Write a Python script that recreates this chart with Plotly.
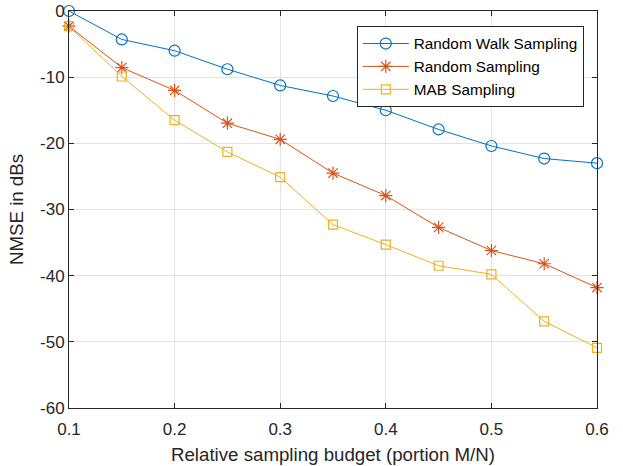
import plotly.graph_objects as go

budget = [0.1, 0.15, 0.2, 0.25, 0.3, 0.35, 0.4, 0.45, 0.5, 0.55, 0.6]
random_walk = [0.0, -4.3, -6.0, -8.8, -11.25, -12.85, -15.0, -17.9, -20.4, -22.3, -23.0]
random_samp = [-2.3, -8.55, -12.0, -16.95, -19.4, -24.5, -27.9, -32.7, -36.2, -38.2, -41.8]
mab_samp = [-2.3, -9.9, -16.5, -21.3, -25.1, -32.3, -35.3, -38.5, -39.8, -46.9, -50.9]

names = ["Random Walk Sampling", "Random Sampling", "MAB Sampling"]
colors = ["#0072BD", "#D95319", "#EDB120"]
symbols = ["circle-open", "asterisk-open", "square-open"]
sizes = [11, 11, 9]

x_ticks = [0.1, 0.2, 0.3, 0.4, 0.5, 0.6]
y_ticks = [0, -10, -20, -30, -40, -50, -60]

fig = go.Figure()
for ys, name, c, s, sz in zip([random_walk, random_samp, mab_samp], names, colors, symbols, sizes):
    fig.add_trace(go.Scatter(
        x=budget, y=ys, mode="lines+markers", name=name,
        line=dict(color=c, width=1),
        marker=dict(symbol=s, size=sz, color=c, line=dict(color=c, width=1.2)),
        cliponaxis=False,
    ))

axis_common = dict(
    showgrid=True, gridcolor="#E3E3E3", gridwidth=1,
    showline=True, linecolor="#262626", linewidth=1, mirror="ticks",
    ticks="inside", ticklen=5, tickcolor="#262626",
    tickfont=dict(family="Liberation Sans, Arial", size=17, color="#262626"),
    zeroline=False, automargin=False,
)

fig.update_layout(
    width=623, height=466,
    margin=dict(l=69, r=26, t=11, b=58),
    paper_bgcolor="white", plot_bgcolor="white",
    font=dict(family="Liberation Sans, Arial", color="#262626"),
    xaxis=dict(range=[0.1, 0.6], tickvals=x_ticks, ticktext=[f"{v:g}" for v in x_ticks],
               ticklabelstandoff=6,
               title=dict(text="Relative sampling budget (portion M/N)", font=dict(size=18.7), standoff=9),
               **axis_common),
    yaxis=dict(range=[-60, 0], tickvals=y_ticks, ticktext=[str(v) if v == 0 else f"-{abs(v)}" for v in y_ticks],
               title=dict(text="NMSE in dBs", font=dict(size=18.7), standoff=11),
               **axis_common),
    legend=dict(x=0.975, y=0.962, xanchor="right", yanchor="top",
                bordercolor="#262626", borderwidth=1, bgcolor="white",
                font=dict(size=15.3, color="#000000"), tracegroupgap=0,
                itemwidth=46),
    showlegend=True,
)

fig.write_html("out.html", post_script="document.body.style.margin='0';",
               config={"displayModeBar": False})
